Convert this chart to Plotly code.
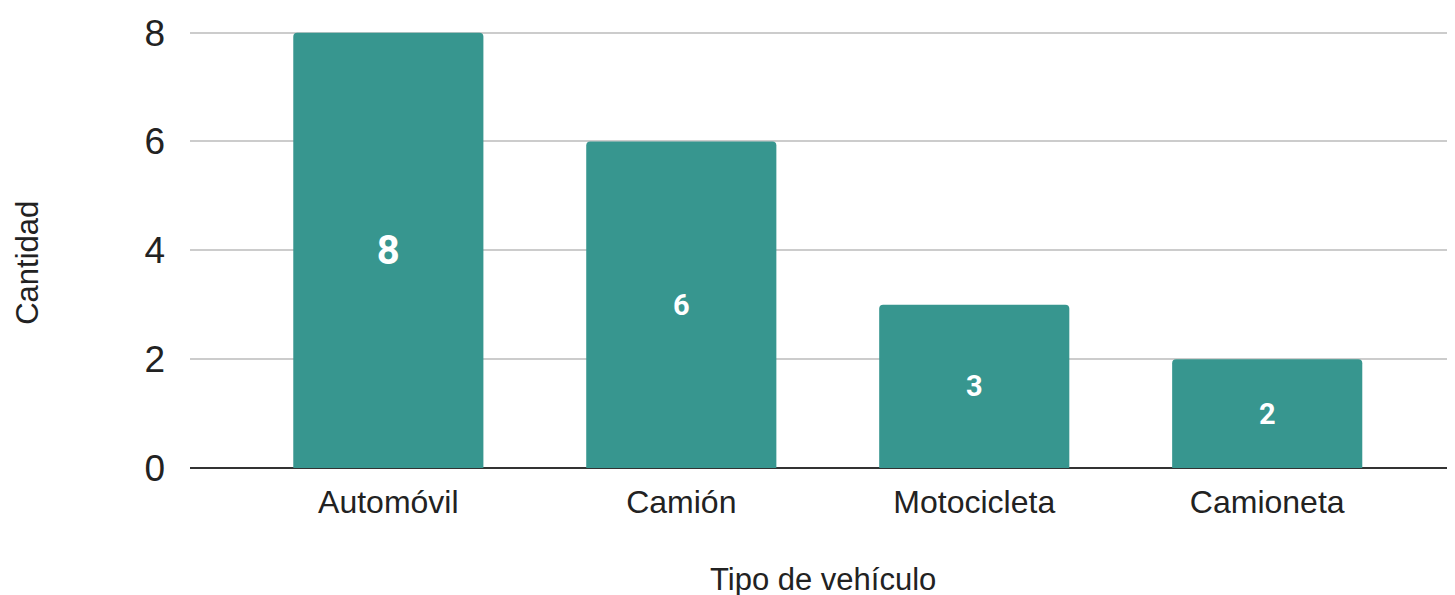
import plotly.graph_objects as go

categories = ["Automóvil", "Camión", "Motocicleta", "Camioneta"]
values = [8, 6, 3, 2]
label_sizes = [40, 29, 29, 29]
y_ticks = [0, 2, 4, 6, 8]
y_top = 8.03  # slight headroom so the top gridline is drawn

# page has an 8px body margin; figure is placed at (8, 8)
OFF = 8
W, H = 1455 - OFF, 595 - OFF
zero_px = 468 - OFF
eight_px = 33 - OFF
ph = (zero_px - eight_px) * y_top / 8
L, R = 190 - OFF, 0
T = zero_px - ph
B = H - zero_px
pw = W - L - R

fig = go.Figure(go.Bar(
    x=categories, y=values,
    text=[str(v) for v in values],
    textposition="inside", insidetextanchor="middle",
    textfont=dict(family="Roboto", size=label_sizes, color="white", weight="bold"),
    marker=dict(color="#37968f", cornerradius=4, line=dict(width=0)),
    width=0.649,
    hoverinfo="x+y",
))

fig.update_layout(
    width=W, height=H,
    margin=dict(l=L, r=R, t=T, b=B, pad=0),
    paper_bgcolor="white", plot_bgcolor="white",
    showlegend=False,
    font=dict(family="Liberation Sans, Arial, sans-serif", color="#222"),
    xaxis=dict(
        range=[-0.677, 3.641], showgrid=False, zeroline=False, showline=False,
        tickfont=dict(size=32, color="#222"), ticks="", ticklabelstandoff=12,
    ),
    yaxis=dict(
        range=[0, y_top], tickvals=y_ticks, ticktext=[str(t) for t in y_ticks],
        showgrid=True, gridcolor="#cccccc", gridwidth=2,
        zeroline=True, zerolinecolor="#333333", zerolinewidth=2,
        showline=False, ticks="", tickfont=dict(size=37, color="#222"),
        ticklabelstandoff=24,
    ),
    annotations=[
        dict(text="Tipo de vehículo", xref="paper", yref="paper",
             x=0.5, y=(zero_px - (579 - OFF)) / ph, xanchor="center", yanchor="middle",
             showarrow=False, font=dict(size=31, color="#222")),
        dict(text="Cantidad", xref="paper", yref="paper",
             x=(28 - OFF - L) / pw, y=(zero_px - (263 - OFF)) / ph, xanchor="center", yanchor="middle",
             textangle=-90, showarrow=False, font=dict(size=31, color="#222")),
    ],
)

fig.write_html("out.html")
